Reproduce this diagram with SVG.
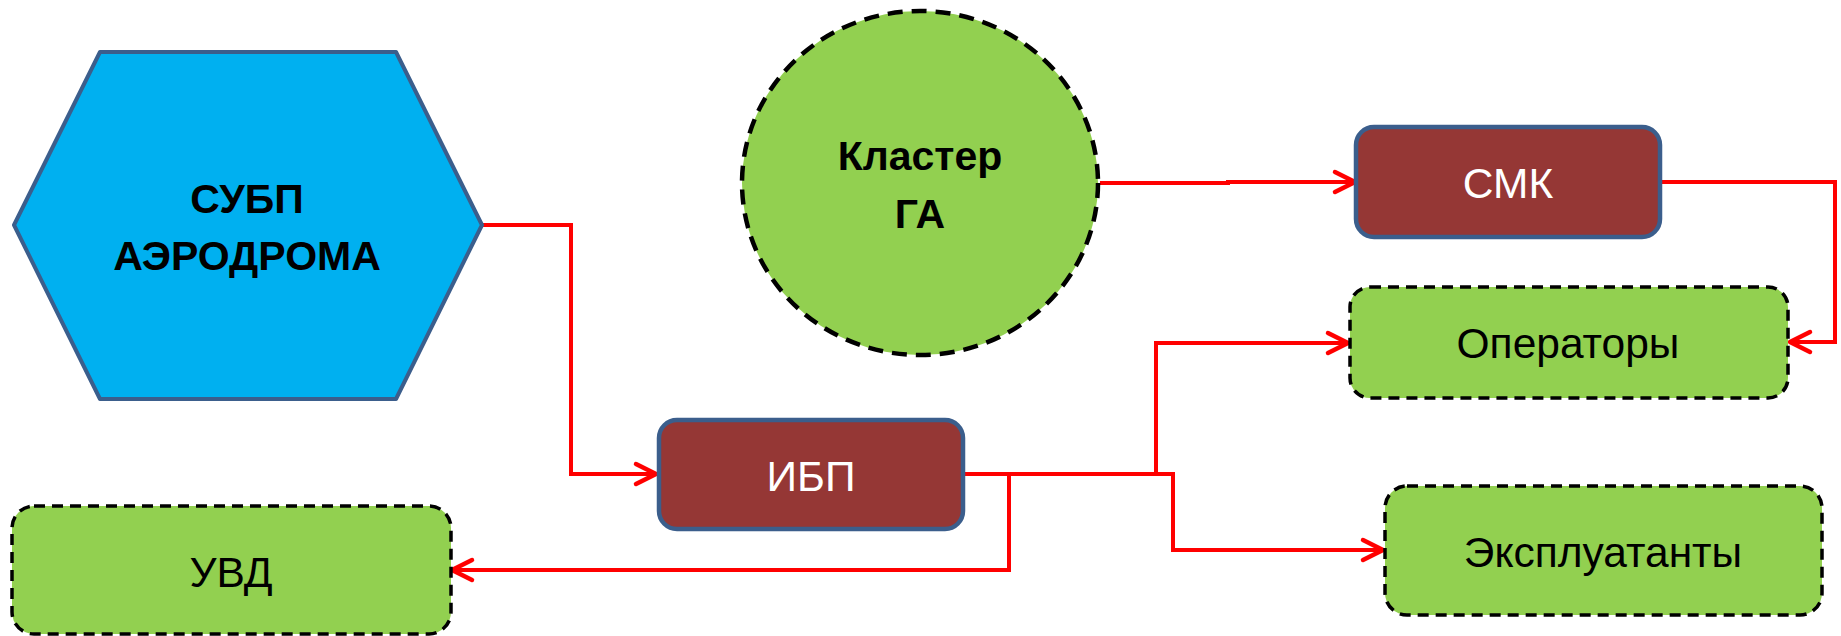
<svg xmlns="http://www.w3.org/2000/svg" width="1841" height="636" viewBox="0 0 1841 636">
<style>
.blue{fill:#00B0F0;stroke:#3B5E8C;stroke-width:4;stroke-linejoin:round}
.brown{fill:#953735;stroke:#3B5E8C;stroke-width:4.5}
.green{fill:#92D050;stroke:#000;stroke-width:3.5;stroke-dasharray:11 7}
.circ{stroke-width:4.5;stroke-dasharray:15 9}
.bold{font-family:"Liberation Sans",Arial,sans-serif;font-weight:bold;font-size:41px;fill:#000;text-anchor:middle}
.reg{font-family:"Liberation Sans",Arial,sans-serif;font-size:42.5px;fill:#000;text-anchor:middle}
.white{fill:#fff}
.conn{fill:none;stroke:#FF0000;stroke-width:4;stroke-linejoin:miter}
</style>
<defs>
<marker id="arr" markerUnits="userSpaceOnUse" markerWidth="30" markerHeight="30" refX="22" refY="12" orient="auto" overflow="visible">
<path d="M2,2 L22,12 L2,22" fill="none" stroke="#FF0000" stroke-width="4.5" stroke-linecap="round" stroke-linejoin="round"/>
</marker>
</defs>
<g id="connectors">
<path class="conn" d="M482,225 H571 V474 H656" marker-end="url(#arr)"/>
<path class="conn" d="M1100,183 H1228 V182 H1355" marker-end="url(#arr)"/>
<path class="conn" d="M1661,182 H1835 V342 H1790" marker-end="url(#arr)"/>
<path class="conn" d="M963,474 H1156 V343 H1348" marker-end="url(#arr)"/>
<path class="conn" d="M1156,474 H1173 V550 H1383" marker-end="url(#arr)"/>
<path class="conn" d="M1009,474 V570 H452" marker-end="url(#arr)"/>
</g>
<g id="node-subp">
<polygon class="blue" points="100,52 396,52 482,225 396,399 100,399 14,225"/>
<text class="bold" x="247" y="213">СУБП</text>
<text class="bold" x="247" y="270">АЭРОДРОМА</text>
</g>
<g id="node-cluster">
<ellipse class="green circ" cx="920" cy="183" rx="178" ry="172"/>
<text class="bold" x="920" y="170">Кластер</text>
<text class="bold" x="920" y="228">ГА</text>
</g>
<g id="node-smk">
<rect class="brown" x="1356" y="127" width="304" height="110" rx="18"/>
<text class="reg white" x="1508" y="198">СМК</text>
</g>
<g id="node-operators">
<rect class="green" x="1350" y="287" width="438" height="111" rx="20"/>
<text class="reg" x="1568" y="358">Операторы</text>
</g>
<g id="node-ibp">
<rect class="brown" x="659" y="420" width="304" height="109" rx="18"/>
<text class="reg white" x="811" y="491">ИБП</text>
</g>
<g id="node-uvd">
<rect class="green" x="12" y="506" width="439" height="128" rx="22"/>
<text class="reg" x="231" y="587">УВД</text>
</g>
<g id="node-expl">
<rect class="green" x="1385" y="486" width="437" height="129" rx="22"/>
<text class="reg" x="1603" y="567">Эксплуатанты</text>
</g>
</svg>
